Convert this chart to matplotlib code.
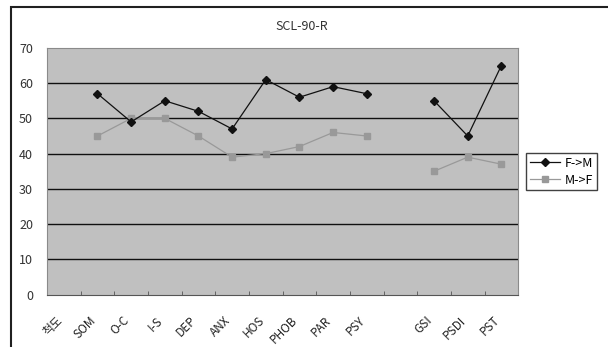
import numpy as np
import matplotlib.pyplot as plt
from matplotlib.patches import Rectangle
from matplotlib.transforms import ScaledTranslation

plt.rcParams['font.family'] = ['Noto Sans CJK KR', 'DejaVu Sans']

categories = ["척도", "SOM", "O-C", "I-S", "DEP", "ANX", "HOS", "PHOB",
              "PAR", "PSY", "", "GSI", "PSDI", "PST"]
f_to_m = [np.nan, 57, 49, 55, 52, 47, 61, 56, 59, 57, np.nan, 55, 45, 65]
m_to_f = [np.nan, 45, 50, 50, 45, 39, 40, 42, 46, 45, np.nan, 35, 39, 37]
y_ticks = [0, 10, 20, 30, 40, 50, 60, 70]

fig = plt.figure(figsize=(6.08, 3.47), dpi=100)
ax = fig.add_axes([0.0773, 0.151, 0.775, 0.711])

# outer chart border (only top and left edges fall inside the image)
fig.patches.append(Rectangle((11 / 608, -0.1), 1.2, 1.1 - 7 / 347,
                             transform=fig.transFigure, fill=False,
                             edgecolor='#202020', linewidth=1.5))

ax.set_facecolor('#c0c0c0')
x = np.arange(len(categories))

for yv in y_ticks[1:-1]:
    ax.axhline(yv, color='#101010', linewidth=1.0, zorder=1)

ax.plot(x, f_to_m, color='#111111', linewidth=0.9, marker='D',
        markersize=4, label='F->M', zorder=3)
ax.plot(x, m_to_f, color='#999999', linewidth=0.9, marker='s',
        markersize=4, label='M->F', zorder=2)

ax.set_xlim(-0.5, len(categories) - 0.5)
ax.set_ylim(0, 70)
ax.set_yticks(y_ticks)
ax.tick_params(axis='y', length=0, pad=10, labelsize=9, labelcolor='#333333')

ax.set_xticks(x)
ax.set_xticklabels(categories, rotation=45, ha='right', va='top',
                   rotation_mode='anchor', fontsize=8.5, color='#222222')
ax.tick_params(axis='x', which='major', length=0, pad=14)
ax.set_xticks(np.arange(0.5, len(categories) - 0.5), minor=True)
ax.tick_params(axis='x', which='minor', direction='in', length=3,
               color='#555555')
shift = ScaledTranslation(-6 / 72, 0, fig.dpi_scale_trans)
for lbl in ax.get_xticklabels():
    lbl.set_transform(lbl.get_transform() + shift)

for side in ['top', 'right', 'left']:
    ax.spines[side].set_color('#8a8a8a')
ax.spines['bottom'].set_color('#555555')

fig.text(302 / 608, 1 - 26 / 347, "SCL-90-R", ha='center', va='center',
         fontsize=9, color='#333333')

leg = fig.legend(loc='upper left', bbox_to_anchor=(526 / 608, 1 - 153 / 347),
                 fontsize=9, frameon=True, fancybox=False, handlelength=2.4,
                 borderpad=0.3, labelspacing=0.3, handletextpad=0.4,
                 borderaxespad=0)
leg.get_frame().set_edgecolor('#111111')
leg.get_frame().set_linewidth(1.0)

fig.savefig("out.png", dpi=100)
